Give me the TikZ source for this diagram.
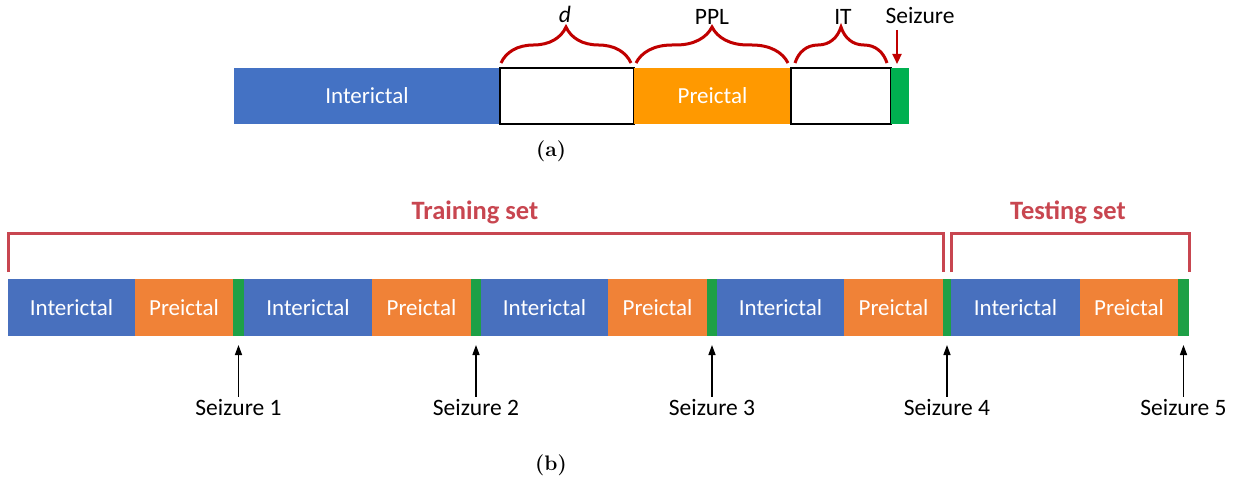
\documentclass[tikz,border=0pt]{standalone}
\usepackage{fontspec}
\newfontfamily\carl{Carlito}
\usetikzlibrary{decorations.pathreplacing,arrows.meta}
\definecolor{blueA}{RGB}{68,114,196}
\definecolor{orangeA}{RGB}{255,153,0}
\definecolor{greenA}{RGB}{0,176,80}
\definecolor{blueB}{RGB}{72,112,190}
\definecolor{orangeB}{RGB}{240,130,55}
\definecolor{greenB}{RGB}{30,160,70}
\definecolor{redA}{RGB}{192,0,0}
\definecolor{redB}{RGB}{200,70,80}
\begin{document}
\begin{tikzpicture}[x=1pt,y=-1pt,
  seg/.style={inner sep=0pt,outer sep=0pt,anchor=west,text=white,
    font=\carl\fontsize{23}{26}\selectfont},
  segA/.style={seg,minimum height=56pt},
  segB/.style={seg,minimum height=57pt},
  wbox/.style={segA,fill=white,draw=black,line width=1.5pt},
  redbrace/.style={draw=redA,line width=3pt,decorate,
    decoration={brace,amplitude=36pt}},
  lbl/.style={inner sep=2pt,font=\carl\fontsize{23.5}{26}\selectfont},
  setlbl/.style={inner sep=0pt,text=redB,font=\carl\bfseries\fontsize{26.5}{30}\selectfont},
  bracket/.style={draw=redB,line width=3pt},
  blackarrow/.style={draw=black,line width=1.4pt,-{Triangle[length=10pt,width=7pt]}},
  redarrow/.style={draw=redA,line width=2.2pt,-{Triangle[length=10pt,width=9pt]}},
  capstyle/.style={inner sep=0pt,font=\fontsize{21}{24}\selectfont\bfseries}
]
\useasboundingbox (0,0) rectangle (1245,481);
% ---------- (a) ----------
\node[segA,fill=blueA,minimum width=266pt] (ai) at (234,96) {Interictal};
\node[wbox,minimum width=134pt] (ad) at (500,96) {};
\node[segA,fill=orangeA,minimum width=157pt] (ap) at (634,96) {Preictal};
\node[wbox,minimum width=100pt] (ait) at (791,96) {};
\node[segA,fill=greenA,minimum width=18pt] (as) at (891,96) {};
\draw[redbrace] ([xshift=1pt,yshift=5pt]ad.north west) -- ([xshift=-3pt,yshift=5pt]ad.north east);
\draw[redbrace] ([xshift=2pt,yshift=5pt]ap.north west) -- ([xshift=-3pt,yshift=5pt]ap.north east);
\draw[redbrace] ([xshift=4pt,yshift=5pt]ait.north west) -- ([xshift=-4pt,yshift=5pt]ait.north east);
\node[lbl] (ld) at (565,14) {\itshape d};
\node[lbl] (lppl) at (712,17) {PPL};
\node[lbl] (lit) at (843,17) {IT};
\node[lbl] (lsz) at (920,16) {Seizure};
\coordinate (szstart) at (897,30);
\path (szstart |- as.north) coordinate (sztop);
\draw[redarrow] (szstart) -- ([yshift=4pt]sztop);
\node[capstyle] (capa) at (551,151) {(a)};
% ---------- (b) ----------
\node[segB,fill=blueB,minimum width=127pt] (i1) at (8,307.5) {Interictal};
\node[segB,fill=orangeB,minimum width=98pt] (p1) at (i1.east) {Preictal};
\node[segB,fill=greenB,minimum width=11pt] (g1) at (p1.east) {};
\node[segB,fill=blueB,minimum width=128pt] (i2) at (g1.east) {Interictal};
\node[segB,fill=orangeB,minimum width=99pt] (p2) at (i2.east) {Preictal};
\node[segB,fill=greenB,minimum width=10pt] (g2) at (p2.east) {};
\node[segB,fill=blueB,minimum width=127pt] (i3) at (g2.east) {Interictal};
\node[segB,fill=orangeB,minimum width=99pt] (p3) at (i3.east) {Preictal};
\node[segB,fill=greenB,minimum width=10pt] (g3) at (p3.east) {};
\node[segB,fill=blueB,minimum width=127pt] (i4) at (g3.east) {Interictal};
\node[segB,fill=orangeB,minimum width=99pt] (p4) at (i4.east) {Preictal};
\node[segB,fill=greenB,minimum width=8pt] (g4) at (p4.east) {};
\node[segB,fill=blueB,minimum width=129pt] (i5) at (g4.east) {Interictal};
\node[segB,fill=orangeB,minimum width=98pt] (p5) at (i5.east) {Preictal};
\node[segB,fill=greenB,minimum width=11pt] (g5) at (p5.east) {};
% brackets
\draw[bracket] ([yshift=7pt]i1.north west) -- ++(0,-38) -| ([yshift=7pt]g4.north west);
\draw[bracket] ([yshift=7pt]g4.north east) -- ++(0,-38) -| ([yshift=7pt]g5.north east);
\node[setlbl] (train) at (475,212) {Training set};
\node[setlbl] (test) at (1068,212) {Testing set};
% seizure labels
\foreach \k in {1,...,5}{
  \node[lbl] (s\k) at (g\k.center |- 0,407) {Seizure \k};
  \draw[blackarrow] (s\k.north) -- ([yshift=-9pt]g\k.south);
}
\node[capstyle] (capb) at (551,465) {(b)};
\end{tikzpicture}
\end{document}
